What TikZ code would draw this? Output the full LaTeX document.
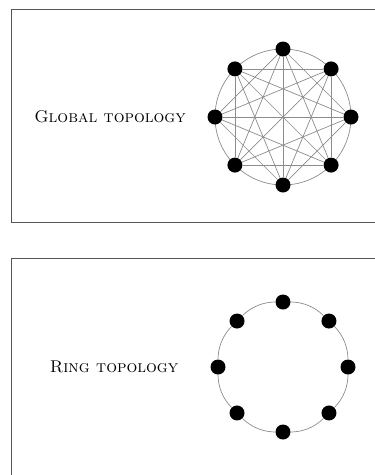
\documentclass[tikz,border=0pt]{standalone}
\usepackage{tikz}
\usetikzlibrary{positioning,calc}
\definecolor{filo}{HTML}{8c8c8c}
\definecolor{bordo}{HTML}{555555}

\begin{document}
\begin{tikzpicture}[x=1pt,y=-1pt,
    nodo/.style={circle,fill=black,inner sep=0pt,minimum size=15pt},
    arco/.style={draw=filo,line width=0.7pt},
    etichetta/.style={font=\fontsize{17}{20}\selectfont}]

\useasboundingbox (0,0) rectangle (375,475);

% Riquadri
\draw[bordo,line width=0.9pt] (376,9) -- (11,9) -- (11,222) -- (376,222);
\draw[bordo,line width=0.9pt] (376,258) -- (11,258) -- (11,476);

% Topologia globale
\coordinate (gc) at (283,117);
\draw[arco] (gc) circle (68);
\foreach \i in {0,...,7}
    \node[nodo] (g\i) at ($(gc)+(\i*45:68)$) {};
\foreach \i in {0,...,5}
{
    \pgfmathtruncatemacro\k{\i+2}
    \foreach \j in {\k,...,7}
    {
        \pgfmathtruncatemacro\d{\j-\i}
        \ifnum\d<7
            \draw[arco] (g\i) -- (g\j);
        \fi
    }
}
\node[etichetta] (glob) at (110,117) {\textsc{Global topology}};

% Topologia ad anello
\coordinate (rc) at (283,367);
\foreach \i in {0,...,7}
    \node[nodo] (r\i) at ($(rc)+(\i*45:65)$) {};
\foreach \i in {0,...,7}
{
    \pgfmathtruncatemacro\j{mod(\i+1,8)}
    \draw[arco] (r\i) to[bend left=22.5,looseness=0.885] (r\j);
}
\node[etichetta] (ring) at (114,367) {\textsc{Ring topology}};
\end{tikzpicture}
\end{document}
